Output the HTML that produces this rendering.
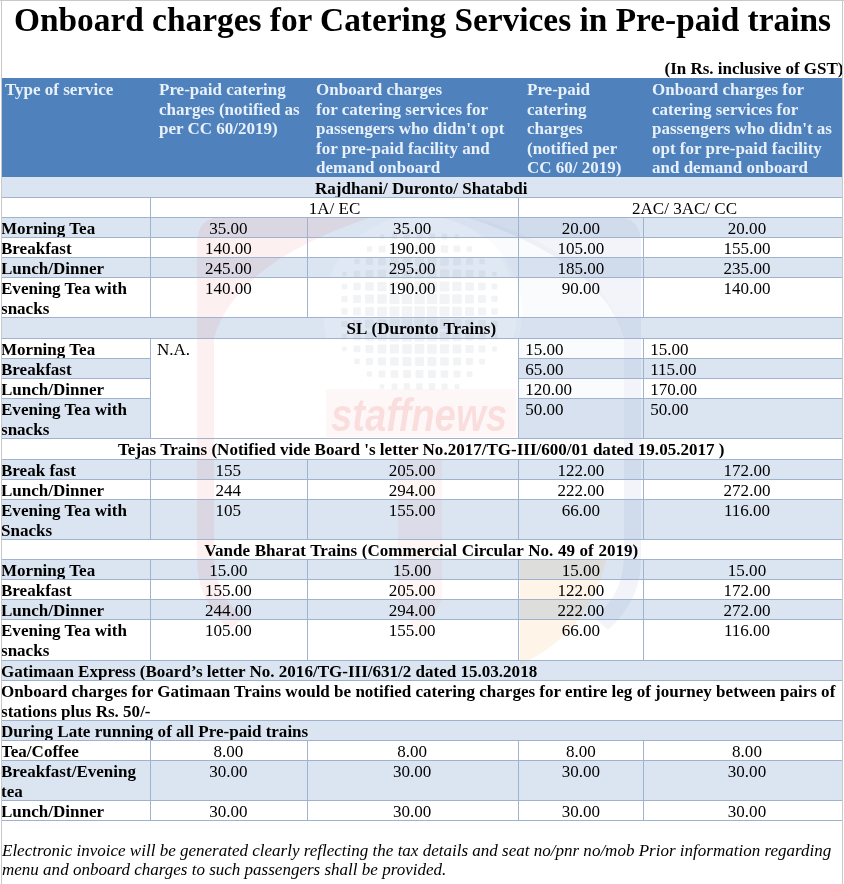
<!DOCTYPE html>
<html lang="en">
<head>
<meta charset="utf-8">
<title>Onboard charges for Catering Services in Pre-paid trains</title>
<style>
html,body{margin:0;padding:0;background:#fff;}
body{width:844px;height:884px;overflow:hidden;position:relative;font-family:"Liberation Serif",serif;color:#000;}
#page{position:absolute;left:0;top:0;width:844px;height:884px;overflow:hidden;background:#fff;}
.frame{position:absolute;background:#c9c9c9;}
h1{position:absolute;margin:0;left:14px;top:1px;width:820px;font-size:33.36px;line-height:38px;font-weight:bold;white-space:nowrap;letter-spacing:0;}
.gst{position:absolute;right:0.5px;top:58.5px;font-size:17px;line-height:19.55px;font-weight:bold;white-space:nowrap;}
.hd{position:absolute;left:2px;top:78px;width:840px;height:99px;background:#4f81bd;}
.hd div{position:absolute;top:2px;font-size:17px;line-height:19.5px;font-weight:bold;color:#e8f1fa;white-space:nowrap;}
.r{position:absolute;left:2px;width:840px;font-size:17.05px;line-height:20.125px;white-space:nowrap;}
.bg{position:absolute;left:2px;width:840px;background:#dbe5f1;}
.c{position:absolute;top:0;height:100%;box-sizing:border-box;border-top:1px solid #9fb3cf;padding-top:0.5px;}
.c.b{font-weight:bold;}
.c.v{border-left:1px solid #9fb3cf;}
.c.m{text-align:center;}
.c.w{background:#fff;}
.ft{position:absolute;left:2px;top:840.5px;font-size:17.03px;line-height:19.9px;font-style:italic;white-space:nowrap;}
</style>
</head>
<body>
<div id="page">
<h1>Onboard charges for Catering Services in Pre-paid trains</h1>
<div class="gst">(In Rs. inclusive of GST)</div>
<div class="hd">
<div style="left:3px">Type of service</div>
<div style="left:157px">Pre-paid catering<br>charges (notified as<br>per CC 60/2019)</div>
<div style="left:314px">Onboard charges<br>for catering services for<br>passengers who didn't opt<br>for pre-paid facility and<br>demand onboard</div>
<div style="left:525px">Pre-paid<br>catering<br>charges<br>(notified per<br>CC 60/ 2019)</div>
<div style="left:650px">Onboard charges for<br>catering services for<br>passengers who didn't as<br>opt for pre-paid facility<br>and demand onboard</div>
</div>
<div class="bg" style="top:177.000px;height:20.000px"></div>
<div class="bg" style="top:217.000px;height:20.000px"></div>
<div class="bg" style="top:257.000px;height:20.000px"></div>
<div class="bg" style="top:317.000px;height:21.000px"></div>
<div class="bg" style="top:358.000px;height:20.000px"></div>
<div class="bg" style="top:398.000px;height:40.000px"></div>
<div class="bg" style="top:459.000px;height:20.000px"></div>
<div class="bg" style="top:499.000px;height:40.000px"></div>
<div class="bg" style="top:559.000px;height:20.000px"></div>
<div class="bg" style="top:599.000px;height:20.000px"></div>
<div class="bg" style="top:660.000px;height:20.000px"></div>
<div class="bg" style="top:720.000px;height:20.000px"></div>
<div class="bg" style="top:760.000px;height:40.000px"></div>
<div class="bg" style="top:338.000px;height:100px;left:150px;width:368px;background:#fff"></div>
<svg id="wm" width="844" height="884" viewBox="0 0 844 884" style="position:absolute;left:0;top:0;pointer-events:none">
<path d="M372,217 L222,217 Q197,217 197,244 L197,560 Q197,600 230,630 L243,618 Q214,592 214,556 L214,338 Q236,262 372,217 Z" fill="#e0201c" opacity="0.065"/>
<path d="M466,217 L616,217 Q641,217 641,244 L641,560 Q641,600 608,630 L595,618 Q624,592 624,556 L624,338 Q602,262 466,217 Z" fill="#24479e" opacity="0.06"/>
<path d="M437,217 L470,217 Q600,250 624,338 L624,440 L519,440 L519,338 A97,97 0 0 0 437,217 Z" fill="#5b78b8" opacity="0.03"/>
<circle cx="420" cy="312" r="97" fill="#ffffff" opacity="0.14"/>
<g fill="#7d8090" opacity="0.09">
<rect x="379.8" y="234.3" width="4.4" height="4.4" rx="1"/><rect x="391.7" y="233.7" width="5.6" height="5.6" rx="1"/><rect x="403.9" y="233.4" width="6.2" height="6.2" rx="1"/><rect x="416.3" y="233.3" width="6.4" height="6.4" rx="1"/><rect x="428.9" y="233.4" width="6.2" height="6.2" rx="1"/><rect x="441.7" y="233.7" width="5.7" height="5.7" rx="1"/><rect x="454.7" y="234.2" width="4.5" height="4.5" rx="1"/><rect x="366.8" y="246.3" width="5.4" height="5.4" rx="1"/><rect x="378.7" y="245.7" width="6.7" height="6.7" rx="1"/><rect x="390.8" y="245.3" width="7.4" height="7.4" rx="1"/><rect x="403.1" y="245.1" width="7.8" height="7.8" rx="1"/><rect x="415.5" y="245.0" width="7.9" height="7.9" rx="1"/><rect x="428.1" y="245.1" width="7.8" height="7.8" rx="1"/><rect x="440.8" y="245.3" width="7.4" height="7.4" rx="1"/><rect x="453.6" y="245.6" width="6.7" height="6.7" rx="1"/><rect x="466.7" y="246.2" width="5.5" height="5.5" rx="1"/><rect x="354.3" y="258.8" width="5.4" height="5.4" rx="1"/><rect x="366.0" y="258.0" width="7.0" height="7.0" rx="1"/><rect x="378.0" y="257.5" width="7.9" height="7.9" rx="1"/><rect x="390.2" y="257.2" width="8.5" height="8.5" rx="1"/><rect x="402.6" y="257.1" width="8.8" height="8.8" rx="1"/><rect x="415.0" y="257.0" width="9.0" height="9.0" rx="1"/><rect x="427.6" y="257.1" width="8.9" height="8.9" rx="1"/><rect x="440.2" y="257.2" width="8.5" height="8.5" rx="1"/><rect x="453.0" y="257.5" width="8.0" height="8.0" rx="1"/><rect x="466.0" y="258.0" width="7.1" height="7.1" rx="1"/><rect x="479.2" y="258.7" width="5.5" height="5.5" rx="1"/><rect x="342.3" y="271.8" width="4.4" height="4.4" rx="1"/><rect x="353.7" y="270.7" width="6.7" height="6.7" rx="1"/><rect x="365.5" y="270.0" width="7.9" height="7.9" rx="1"/><rect x="377.6" y="269.6" width="8.7" height="8.7" rx="1"/><rect x="389.9" y="269.4" width="9.3" height="9.3" rx="1"/><rect x="402.2" y="269.2" width="9.6" height="9.6" rx="1"/><rect x="414.7" y="269.2" width="9.7" height="9.7" rx="1"/><rect x="427.2" y="269.2" width="9.6" height="9.6" rx="1"/><rect x="439.9" y="269.4" width="9.3" height="9.3" rx="1"/><rect x="452.6" y="269.6" width="8.8" height="8.8" rx="1"/><rect x="465.5" y="270.0" width="8.0" height="8.0" rx="1"/><rect x="478.6" y="270.6" width="6.8" height="6.8" rx="1"/><rect x="492.2" y="271.7" width="4.6" height="4.6" rx="1"/><rect x="341.7" y="283.7" width="5.6" height="5.6" rx="1"/><rect x="353.3" y="282.8" width="7.4" height="7.4" rx="1"/><rect x="365.2" y="282.2" width="8.5" height="8.5" rx="1"/><rect x="377.4" y="281.9" width="9.3" height="9.3" rx="1"/><rect x="389.6" y="281.6" width="9.8" height="9.8" rx="1"/><rect x="402.0" y="281.5" width="10.0" height="10.0" rx="1"/><rect x="414.4" y="281.4" width="10.1" height="10.1" rx="1"/><rect x="427.0" y="281.5" width="10.1" height="10.1" rx="1"/><rect x="439.6" y="281.6" width="9.8" height="9.8" rx="1"/><rect x="452.3" y="281.8" width="9.3" height="9.3" rx="1"/><rect x="465.2" y="282.2" width="8.6" height="8.6" rx="1"/><rect x="478.2" y="282.7" width="7.5" height="7.5" rx="1"/><rect x="491.6" y="283.6" width="5.8" height="5.8" rx="1"/><rect x="341.4" y="295.9" width="6.2" height="6.2" rx="1"/><rect x="353.1" y="295.1" width="7.8" height="7.8" rx="1"/><rect x="365.1" y="294.6" width="8.8" height="8.8" rx="1"/><rect x="377.2" y="294.2" width="9.6" height="9.6" rx="1"/><rect x="389.5" y="294.0" width="10.0" height="10.0" rx="1"/><rect x="401.8" y="293.8" width="10.3" height="10.3" rx="1"/><rect x="414.3" y="293.8" width="10.4" height="10.4" rx="1"/><rect x="426.8" y="293.8" width="10.3" height="10.3" rx="1"/><rect x="439.5" y="294.0" width="10.1" height="10.1" rx="1"/><rect x="452.2" y="294.2" width="9.6" height="9.6" rx="1"/><rect x="465.0" y="294.5" width="8.9" height="8.9" rx="1"/><rect x="478.1" y="295.1" width="7.9" height="7.9" rx="1"/><rect x="491.3" y="295.8" width="6.3" height="6.3" rx="1"/><rect x="341.3" y="308.3" width="6.4" height="6.4" rx="1"/><rect x="353.0" y="307.5" width="7.9" height="7.9" rx="1"/><rect x="365.0" y="307.0" width="9.0" height="9.0" rx="1"/><rect x="377.2" y="306.7" width="9.7" height="9.7" rx="1"/><rect x="389.4" y="306.4" width="10.1" height="10.1" rx="1"/><rect x="401.8" y="306.3" width="10.4" height="10.4" rx="1"/><rect x="414.3" y="306.3" width="10.5" height="10.5" rx="1"/><rect x="426.8" y="306.3" width="10.4" height="10.4" rx="1"/><rect x="439.4" y="306.4" width="10.2" height="10.2" rx="1"/><rect x="452.1" y="306.6" width="9.7" height="9.7" rx="1"/><rect x="465.0" y="307.0" width="9.0" height="9.0" rx="1"/><rect x="478.0" y="307.5" width="8.0" height="8.0" rx="1"/><rect x="491.2" y="308.2" width="6.5" height="6.5" rx="1"/><rect x="341.4" y="320.9" width="6.2" height="6.2" rx="1"/><rect x="353.1" y="320.1" width="7.8" height="7.8" rx="1"/><rect x="365.1" y="319.6" width="8.9" height="8.9" rx="1"/><rect x="377.2" y="319.2" width="9.6" height="9.6" rx="1"/><rect x="389.5" y="319.0" width="10.1" height="10.1" rx="1"/><rect x="401.8" y="318.8" width="10.3" height="10.3" rx="1"/><rect x="414.3" y="318.8" width="10.4" height="10.4" rx="1"/><rect x="426.8" y="318.8" width="10.3" height="10.3" rx="1"/><rect x="439.5" y="319.0" width="10.1" height="10.1" rx="1"/><rect x="452.2" y="319.2" width="9.6" height="9.6" rx="1"/><rect x="465.0" y="319.5" width="8.9" height="8.9" rx="1"/><rect x="478.0" y="320.0" width="7.9" height="7.9" rx="1"/><rect x="491.3" y="320.8" width="6.4" height="6.4" rx="1"/><rect x="341.7" y="333.7" width="5.7" height="5.7" rx="1"/><rect x="353.3" y="332.8" width="7.4" height="7.4" rx="1"/><rect x="365.2" y="332.2" width="8.5" height="8.5" rx="1"/><rect x="377.4" y="331.9" width="9.3" height="9.3" rx="1"/><rect x="389.6" y="331.6" width="9.8" height="9.8" rx="1"/><rect x="402.0" y="331.5" width="10.1" height="10.1" rx="1"/><rect x="414.4" y="331.4" width="10.2" height="10.2" rx="1"/><rect x="427.0" y="331.5" width="10.1" height="10.1" rx="1"/><rect x="439.6" y="331.6" width="9.8" height="9.8" rx="1"/><rect x="452.3" y="331.8" width="9.3" height="9.3" rx="1"/><rect x="465.2" y="332.2" width="8.6" height="8.6" rx="1"/><rect x="478.2" y="332.7" width="7.5" height="7.5" rx="1"/><rect x="491.6" y="333.6" width="5.9" height="5.9" rx="1"/><rect x="342.2" y="346.7" width="4.5" height="4.5" rx="1"/><rect x="353.6" y="345.6" width="6.7" height="6.7" rx="1"/><rect x="365.5" y="345.0" width="8.0" height="8.0" rx="1"/><rect x="377.6" y="344.6" width="8.8" height="8.8" rx="1"/><rect x="389.8" y="344.3" width="9.3" height="9.3" rx="1"/><rect x="402.2" y="344.2" width="9.6" height="9.6" rx="1"/><rect x="414.6" y="344.1" width="9.7" height="9.7" rx="1"/><rect x="427.2" y="344.2" width="9.6" height="9.6" rx="1"/><rect x="439.8" y="344.3" width="9.3" height="9.3" rx="1"/><rect x="452.6" y="344.6" width="8.8" height="8.8" rx="1"/><rect x="465.5" y="345.0" width="8.1" height="8.1" rx="1"/><rect x="478.6" y="345.6" width="6.9" height="6.9" rx="1"/><rect x="492.1" y="346.6" width="4.8" height="4.8" rx="1"/><rect x="354.2" y="358.7" width="5.5" height="5.5" rx="1"/><rect x="366.0" y="358.0" width="7.1" height="7.1" rx="1"/><rect x="378.0" y="357.5" width="8.0" height="8.0" rx="1"/><rect x="390.2" y="357.2" width="8.6" height="8.6" rx="1"/><rect x="402.5" y="357.0" width="8.9" height="8.9" rx="1"/><rect x="415.0" y="357.0" width="9.0" height="9.0" rx="1"/><rect x="427.5" y="357.0" width="8.9" height="8.9" rx="1"/><rect x="440.2" y="357.2" width="8.6" height="8.6" rx="1"/><rect x="453.0" y="357.5" width="8.1" height="8.1" rx="1"/><rect x="465.9" y="357.9" width="7.2" height="7.2" rx="1"/><rect x="479.2" y="358.7" width="5.7" height="5.7" rx="1"/><rect x="366.7" y="371.2" width="5.5" height="5.5" rx="1"/><rect x="378.6" y="370.6" width="6.8" height="6.8" rx="1"/><rect x="390.7" y="370.2" width="7.5" height="7.5" rx="1"/><rect x="403.1" y="370.1" width="7.9" height="7.9" rx="1"/><rect x="415.5" y="370.0" width="8.0" height="8.0" rx="1"/><rect x="428.0" y="370.0" width="7.9" height="7.9" rx="1"/><rect x="440.7" y="370.2" width="7.5" height="7.5" rx="1"/><rect x="453.6" y="370.6" width="6.9" height="6.9" rx="1"/><rect x="466.7" y="371.2" width="5.7" height="5.7" rx="1"/><rect x="379.7" y="384.2" width="4.6" height="4.6" rx="1"/><rect x="391.6" y="383.6" width="5.8" height="5.8" rx="1"/><rect x="403.8" y="383.3" width="6.3" height="6.3" rx="1"/><rect x="416.2" y="383.2" width="6.5" height="6.5" rx="1"/><rect x="428.8" y="383.3" width="6.4" height="6.4" rx="1"/><rect x="441.6" y="383.6" width="5.9" height="5.9" rx="1"/><rect x="454.6" y="384.1" width="4.8" height="4.8" rx="1"/>
</g>
<rect x="326" y="389" width="190" height="48" fill="#e0201c" opacity="0.035"/>
<text x="419" y="431" text-anchor="middle" font-family="'Liberation Sans',sans-serif" font-weight="bold" font-style="italic" font-size="46" textLength="176" lengthAdjust="spacingAndGlyphs" fill="#e0201c" opacity="0.11">staffnews</text>
<path d="M398,460 L442,460 L442,600 L420,640 L398,600 Z" fill="#e0201c" opacity="0.045"/>
<path d="M520,560 L606,560 C596,610 562,645 520,665 Z" fill="#f59a1c" opacity="0.10"/>
</svg>
<div class="r" style="top:177.000px;height:20.000px"><div class="c b m" style="left:0px;width:840px;padding-right:1.5px;border-top-color:transparent;">Rajdhani/ Duronto/ Shatabdi</div></div>
<div class="r" style="top:197.000px;height:20.000px"><div class="c b" style="left:0px;width:148px;"></div><div class="c v m" style="left:148px;width:368px;">1A/ EC</div><div class="c v m" style="left:516px;width:324px;padding-left:8px;">2AC/ 3AC/ CC</div></div>
<div class="r" style="top:217.000px;height:20.000px"><div class="c b" style="left:0px;width:148px;margin-left:-1px;padding-right:1px;box-sizing:content-box;">Morning Tea</div><div class="c v m" style="left:148px;width:157px;padding-right:1.4px;">35.00</div><div class="c v m" style="left:305px;width:211px;padding-right:1.6px;">35.00</div><div class="c v m" style="left:516px;width:125px;padding-right:0.4px;">20.00</div><div class="c v m" style="left:641px;width:199px;padding-left:8px;">20.00</div></div>
<div class="r" style="top:237.000px;height:20.000px"><div class="c b" style="left:0px;width:148px;margin-left:-1px;padding-right:1px;box-sizing:content-box;">Breakfast</div><div class="c v m" style="left:148px;width:157px;padding-right:1.4px;">140.00</div><div class="c v m" style="left:305px;width:211px;padding-right:1.6px;">190.00</div><div class="c v m" style="left:516px;width:125px;padding-right:0.4px;">105.00</div><div class="c v m" style="left:641px;width:199px;padding-left:8px;">155.00</div></div>
<div class="r" style="top:257.000px;height:20.000px"><div class="c b" style="left:0px;width:148px;margin-left:-1px;padding-right:1px;box-sizing:content-box;">Lunch/Dinner</div><div class="c v m" style="left:148px;width:157px;padding-right:1.4px;">245.00</div><div class="c v m" style="left:305px;width:211px;padding-right:1.6px;">295.00</div><div class="c v m" style="left:516px;width:125px;padding-right:0.4px;">185.00</div><div class="c v m" style="left:641px;width:199px;padding-left:8px;">235.00</div></div>
<div class="r" style="top:277.000px;height:40.000px"><div class="c b" style="left:0px;width:148px;margin-left:-1px;padding-right:1px;box-sizing:content-box;">Evening Tea with<br>snacks</div><div class="c v m" style="left:148px;width:157px;padding-right:1.4px;">140.00</div><div class="c v m" style="left:305px;width:211px;padding-right:1.6px;">190.00</div><div class="c v m" style="left:516px;width:125px;padding-right:0.4px;">90.00</div><div class="c v m" style="left:641px;width:199px;padding-left:8px;">140.00</div></div>
<div class="r" style="top:317.000px;height:21.000px"><div class="c b m" style="left:0px;width:840px;padding-right:1.5px;word-spacing:1px;">SL (Duronto Trains)</div></div>
<div class="r" style="top:338.000px;height:20.000px"><div class="c b" style="left:0px;width:148px;margin-left:-1px;padding-right:1px;box-sizing:content-box;">Morning Tea</div><div class="c v" style="left:148px;width:368px;height:100px;padding-left:6px;z-index:2">N.A.</div><div class="c v" style="left:516px;width:125px;padding-left:6.2px;">15.00</div><div class="c v" style="left:641px;width:199px;padding-left:6.2px;">15.00</div></div>
<div class="r" style="top:358.000px;height:20.000px"><div class="c b" style="left:0px;width:148px;margin-left:-1px;padding-right:1px;box-sizing:content-box;">Breakfast</div><div class="c v" style="left:516px;width:125px;padding-left:6.2px;">65.00</div><div class="c v" style="left:641px;width:199px;padding-left:6.2px;">115.00</div></div>
<div class="r" style="top:378.000px;height:20.000px"><div class="c b" style="left:0px;width:148px;margin-left:-1px;padding-right:1px;box-sizing:content-box;">Lunch/Dinner</div><div class="c v" style="left:516px;width:125px;padding-left:6.2px;">120.00</div><div class="c v" style="left:641px;width:199px;padding-left:6.2px;">170.00</div></div>
<div class="r" style="top:398.000px;height:40.000px"><div class="c b" style="left:0px;width:148px;margin-left:-1px;padding-right:1px;box-sizing:content-box;">Evening Tea with<br>snacks</div><div class="c v" style="left:516px;width:125px;padding-left:6.2px;">50.00</div><div class="c v" style="left:641px;width:199px;padding-left:6.2px;">50.00</div></div>
<div class="r" style="top:438.000px;height:21.000px"><div class="c b m" style="left:0px;width:840px;padding-right:1.5px;">Tejas Trains (Notified vide Board 's letter No.2017/TG-III/600/01 dated 19.05.2017 )</div></div>
<div class="r" style="top:459.000px;height:20.000px"><div class="c b" style="left:0px;width:148px;margin-left:-1px;padding-right:1px;box-sizing:content-box;">Break fast</div><div class="c v m" style="left:148px;width:157px;padding-right:1.4px;">155</div><div class="c v m" style="left:305px;width:211px;padding-right:1.6px;">205.00</div><div class="c v m" style="left:516px;width:125px;padding-right:0.4px;">122.00</div><div class="c v m" style="left:641px;width:199px;padding-left:8px;">172.00</div></div>
<div class="r" style="top:479.000px;height:20.000px"><div class="c b" style="left:0px;width:148px;margin-left:-1px;padding-right:1px;box-sizing:content-box;">Lunch/Dinner</div><div class="c v m" style="left:148px;width:157px;padding-right:1.4px;">244</div><div class="c v m" style="left:305px;width:211px;padding-right:1.6px;">294.00</div><div class="c v m" style="left:516px;width:125px;padding-right:0.4px;">222.00</div><div class="c v m" style="left:641px;width:199px;padding-left:8px;">272.00</div></div>
<div class="r" style="top:499.000px;height:40.000px"><div class="c b" style="left:0px;width:148px;margin-left:-1px;padding-right:1px;box-sizing:content-box;">Evening Tea with<br>Snacks</div><div class="c v m" style="left:148px;width:157px;padding-right:1.4px;">105</div><div class="c v m" style="left:305px;width:211px;padding-right:1.6px;">155.00</div><div class="c v m" style="left:516px;width:125px;padding-right:0.4px;">66.00</div><div class="c v m" style="left:641px;width:199px;padding-left:8px;">116.00</div></div>
<div class="r" style="top:539.000px;height:20.000px"><div class="c b m" style="left:0px;width:840px;padding-right:1.5px;word-spacing:0.4px;">Vande Bharat Trains (Commercial Circular No. 49 of 2019)</div></div>
<div class="r" style="top:559.000px;height:20.000px"><div class="c b" style="left:0px;width:148px;margin-left:-1px;padding-right:1px;box-sizing:content-box;">Morning Tea</div><div class="c v m" style="left:148px;width:157px;padding-right:1.4px;">15.00</div><div class="c v m" style="left:305px;width:211px;padding-right:1.6px;">15.00</div><div class="c v m" style="left:516px;width:125px;padding-right:0.4px;">15.00</div><div class="c v m" style="left:641px;width:199px;padding-left:8px;">15.00</div></div>
<div class="r" style="top:579.000px;height:20.000px"><div class="c b" style="left:0px;width:148px;margin-left:-1px;padding-right:1px;box-sizing:content-box;">Breakfast</div><div class="c v m" style="left:148px;width:157px;padding-right:1.4px;">155.00</div><div class="c v m" style="left:305px;width:211px;padding-right:1.6px;">205.00</div><div class="c v m" style="left:516px;width:125px;padding-right:0.4px;">122.00</div><div class="c v m" style="left:641px;width:199px;padding-left:8px;">172.00</div></div>
<div class="r" style="top:599.000px;height:20.000px"><div class="c b" style="left:0px;width:148px;margin-left:-1px;padding-right:1px;box-sizing:content-box;">Lunch/Dinner</div><div class="c v m" style="left:148px;width:157px;padding-right:1.4px;">244.00</div><div class="c v m" style="left:305px;width:211px;padding-right:1.6px;">294.00</div><div class="c v m" style="left:516px;width:125px;padding-right:0.4px;">222.00</div><div class="c v m" style="left:641px;width:199px;padding-left:8px;">272.00</div></div>
<div class="r" style="top:619.000px;height:41.000px"><div class="c b" style="left:0px;width:148px;margin-left:-1px;padding-right:1px;box-sizing:content-box;">Evening Tea with<br>snacks</div><div class="c v m" style="left:148px;width:157px;padding-right:1.4px;">105.00</div><div class="c v m" style="left:305px;width:211px;padding-right:1.6px;">155.00</div><div class="c v m" style="left:516px;width:125px;padding-right:0.4px;">66.00</div><div class="c v m" style="left:641px;width:199px;padding-left:8px;">116.00</div></div>
<div class="r" style="top:660.000px;height:20.000px"><div class="c b" style="left:0px;width:840px;margin-left:-1px;padding-right:1px;box-sizing:content-box;">Gatimaan Express (Board’s letter No. 2016/TG-III/631/2 dated 15.03.2018</div></div>
<div class="r" style="top:680.000px;height:40.000px"><div class="c b" style="left:0px;width:840px;margin-left:-1px;padding-right:1px;box-sizing:content-box;">Onboard charges for Gatimaan Trains would be notified catering charges for entire leg of journey between pairs of<br>stations plus Rs. 50/-</div></div>
<div class="r" style="top:720.000px;height:20.000px"><div class="c b" style="left:0px;width:840px;margin-left:-1px;padding-right:1px;box-sizing:content-box;">During Late running of all Pre-paid trains</div></div>
<div class="r" style="top:740.000px;height:20.000px"><div class="c b" style="left:0px;width:148px;margin-left:-1px;padding-right:1px;box-sizing:content-box;">Tea/Coffee</div><div class="c v m" style="left:148px;width:157px;padding-right:1.4px;">8.00</div><div class="c v m" style="left:305px;width:211px;padding-right:1.6px;">8.00</div><div class="c v m" style="left:516px;width:125px;padding-right:0.4px;">8.00</div><div class="c v m" style="left:641px;width:199px;padding-left:8px;">8.00</div></div>
<div class="r" style="top:760.000px;height:40.000px"><div class="c b" style="left:0px;width:148px;margin-left:-1px;padding-right:1px;box-sizing:content-box;">Breakfast/Evening<br>tea</div><div class="c v m" style="left:148px;width:157px;padding-right:1.4px;">30.00</div><div class="c v m" style="left:305px;width:211px;padding-right:1.6px;">30.00</div><div class="c v m" style="left:516px;width:125px;padding-right:0.4px;">30.00</div><div class="c v m" style="left:641px;width:199px;padding-left:8px;">30.00</div></div>
<div class="r" style="top:800.000px;height:20.000px"><div class="c b" style="left:0px;width:148px;margin-left:-1px;padding-right:1px;box-sizing:content-box;">Lunch/Dinner</div><div class="c v m" style="left:148px;width:157px;padding-right:1.4px;">30.00</div><div class="c v m" style="left:305px;width:211px;padding-right:1.6px;">30.00</div><div class="c v m" style="left:516px;width:125px;padding-right:0.4px;">30.00</div><div class="c v m" style="left:641px;width:199px;padding-left:8px;">30.00</div></div>
<div class="frame" style="left:2px;top:820.000px;width:840px;height:1px;background:#9fb3cf"></div>
<div class="ft">Electronic invoice will be generated clearly reflecting the tax details and seat no/pnr no/mob Prior information regarding<br>menu and onboard charges to such passengers shall be provided.</div>
<div class="frame" style="left:1px;top:0;width:1px;height:884px"></div>
<div class="frame" style="left:842px;top:0;width:1px;height:884px"></div>
<div class="frame" style="left:0;top:0;width:844px;height:1px"></div>
</div>
</body>
</html>
